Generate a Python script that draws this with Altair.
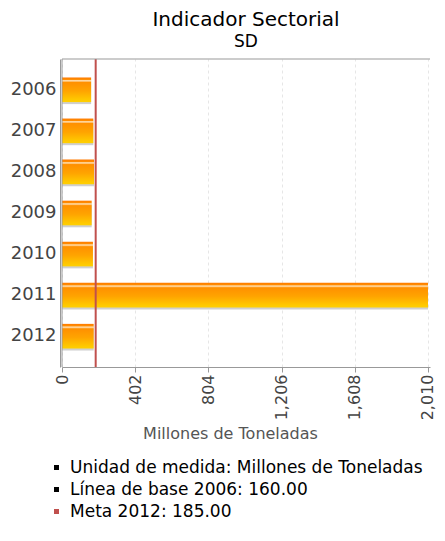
import altair as alt
import pandas as pd

years = ["2006", "2007", "2008", "2009", "2010", "2011", "2012"]
values = [160, 172, 176, 163, 170, 2010, 174]
meta_value = 185
x_ticks = [0, 402, 804, 1206, 1608, 2010]
legend_labels = [
    "Unidad de medida: Millones de Toneladas",
    "Línea de base 2006: 160.00",
    "Meta 2012: 185.00",
]
legend_colors = ["#000000", "#000000", "#c0504d"]

W, H = 368, 308

df = pd.DataFrame({"year": years, "value": values})
meta_df = pd.DataFrame({"meta": [meta_value]})
leg_df = pd.DataFrame({"item": legend_labels, "x": [0, 0, 0], "year": ["2006"] * 3})

FONT = "DejaVu Sans"

grad = alt.Gradient(
    gradient="linear",
    stops=[
        alt.GradientStop(color="#ff7a00", offset=0),
        alt.GradientStop(color="#ff8c00", offset=0.08),
        alt.GradientStop(color="#ffe6c0", offset=0.13),
        alt.GradientStop(color="#ff9000", offset=0.2),
        alt.GradientStop(color="#ffa400", offset=0.55),
        alt.GradientStop(color="#ffc800", offset=0.9),
        alt.GradientStop(color="#ffd000", offset=1),
    ],
    x1=0, x2=0, y1=0, y2=1,
)

x_scale = alt.Scale(domain=[0, 2021], nice=False, zero=True)
y_scale = alt.Scale(domain=years, paddingInner=0.4, paddingOuter=0.45)

x_axis = alt.Axis(
    values=x_ticks, format=",d", labelAngle=-90, labelFontSize=16, labelColor="#444444",
    labelFont=FONT, title="Millones de Toneladas", titleFont=FONT, titleFontSize=16,
    titleFontWeight="normal", titleColor="#555555", gridDash=[3, 3], gridColor="#e6e6e6",
    domainColor="#999999", tickColor="#999999", titlePadding=6, titleX=168,
)
y_axis = alt.Axis(
    title=None, labelFontSize=18, labelColor="#444444", labelFont=FONT, ticks=False,
    gridDash=[3, 3], gridColor="#e6e6e6", domainColor="#999999", offset=2,
    bandPosition=0.5, labelPadding=4,
)

shadow = alt.Chart(df).mark_bar(color="#cfcfcf", yOffset=2).encode(
    x=alt.X("value:Q", scale=x_scale, axis=x_axis),
    y=alt.Y("year:N", scale=y_scale, axis=y_axis, sort=years),
)
bars = alt.Chart(df).mark_bar(color=grad).encode(
    x=alt.X("value:Q", scale=x_scale),
    y=alt.Y("year:N", scale=y_scale, sort=years),
)
rule = alt.Chart(meta_df).mark_rule(color="#c0504d", strokeWidth=2).encode(
    x=alt.X("meta:Q", scale=x_scale)
)
top_border = alt.Chart(meta_df).mark_rule(color="#999999", strokeWidth=1).encode(
    x=alt.value(0), x2=alt.value(W), y=alt.value(0)
)
left_border = alt.Chart(meta_df).mark_rule(color="#999999", strokeWidth=1).encode(
    x=alt.value(0), y=alt.value(0), y2=alt.value(H)
)
legend_layer = alt.Chart(leg_df).mark_square(opacity=0, size=1).encode(
    x=alt.X("x:Q", scale=x_scale),
    y=alt.Y("year:N", scale=y_scale, sort=years),
    color=alt.Color(
        "item:N",
        scale=alt.Scale(domain=legend_labels, range=legend_colors),
        legend=alt.Legend(
            title=None, orient="none", legendX=-14, legendY=400, direction="vertical",
            symbolType="square", symbolSize=25, symbolOpacity=1, labelFont=FONT,
            labelFontSize=17, labelColor="#000000", labelLimit=500, rowPadding=4,
            symbolStrokeWidth=0, labelOffset=5, padding=0,
        ),
    ),
)

chart = (
    alt.layer(shadow, bars, rule, top_border, left_border, legend_layer)
    .properties(
        width=W, height=H,
        padding={"left": 2, "top": 2, "right": 0, "bottom": 0},
        title=alt.TitleParams(
            "Indicador Sectorial", subtitle="SD", font=FONT, fontSize=20,
            fontWeight="normal", color="#000000", subtitleFont=FONT, subtitleFontSize=17,
            subtitleColor="#000000", anchor="middle", offset=8, subtitlePadding=4,
        ),
    )
    .configure_view(stroke=None)
)

chart.save("out.html", embed_options={"renderer": "svg", "actions": False})
